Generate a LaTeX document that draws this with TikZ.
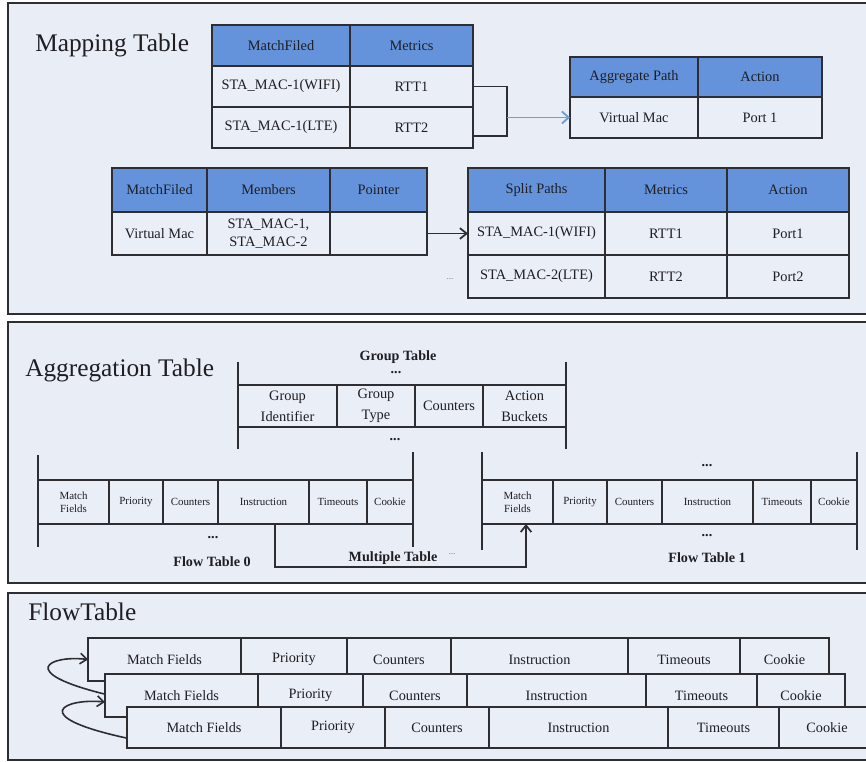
\documentclass[tikz,border=0pt]{standalone}
\usepackage{fontspec}
\setmainfont{Liberation Serif}
\usetikzlibrary{calc,arrows.meta}
\definecolor{panelc}{RGB}{233,237,246}
\definecolor{cellc}{RGB}{234,238,247}
\definecolor{hdrc}{RGB}{100,147,219}
\definecolor{linec}{RGB}{45,45,50}
\definecolor{textc}{RGB}{30,30,35}
\definecolor{bluec}{RGB}{118,155,205}
\newcommand\tcell[7][]{%
  \pgfmathsetmacro\cw{(#5-#3)*0.75}%
  \pgfmathsetmacro\ch{(#6-#4)*0.75}%
  \node[cell,#1,minimum width=\cw pt,minimum height=\ch pt] (#2) at ({(#3+#5)/2},{(#4+#6)/2}) {#7};}
\begin{document}
\begin{tikzpicture}[x=0.75pt,y=-0.75pt,
  panel/.style={draw=linec,line width=1.6pt,fill=panelc},
  cell/.style={draw=linec,line width=1.3pt,fill=cellc,inner sep=0pt,outer sep=0pt,text=textc,align=center,font=\fontsize{10.8}{14}\selectfont},
  hdr/.style={fill=hdrc},
  fcell/.style={font=\fontsize{8.2}{9.8}\selectfont},
  gcell/.style={font=\fontsize{10.8}{15.5}\selectfont},
  bcell/.style={font=\fontsize{10.7}{13}\selectfont},
  title/.style={anchor=west,inner sep=0pt,text=textc,font=\fontsize{19}{22}\selectfont},
  blabel/.style={inner sep=0pt,text=textc,font=\fontsize{10.6}{12}\selectfont\bfseries},
  sdots/.style={inner sep=0pt,text=gray,font=\fontsize{7}{8}\selectfont},
  bar/.style={draw=linec,line width=1.5pt},
  conn/.style={draw=linec,line width=1.3pt},
  arr/.style={draw=linec,line width=1.3pt,-{Straight Barb[length=5pt,width=8pt]}},
  bluearr/.style={draw=bluec,line width=1.4pt,-{Straight Barb[length=5pt,width=9pt]}},
  curv/.style={draw=linec,line width=1.2pt,-{Straight Barb[length=5pt,width=8pt]}}]
\useasboundingbox (0,0) rectangle (866,762);
\clip (0,0) rectangle (866,762);
\fill[white] (0,0) rectangle (866,762);

% ---------------- Mapping table panel ----------------
\draw[panel] (8,3) rectangle (890,314);
\node[title] (tmap) at (35,45) {Mapping Table};

\tcell[hdr]{a11}{212}{25}{350}{66}{MatchFiled}
\tcell[hdr]{a12}{350}{25}{473}{66}{Metrics}
\tcell{a21}{212}{66}{350}{107}{STA\_MAC-1(WIFI)}
\tcell{a22}{350}{66}{473}{107}{RTT1}
\tcell{a31}{212}{107}{350}{148}{STA\_MAC-1(LTE)}
\tcell{a32}{350}{107}{473}{148}{RTT2}

\tcell[hdr]{b11}{570}{57}{698}{97}{Aggregate Path}
\tcell[hdr]{b12}{698}{57}{822}{97}{Action}
\tcell{b21}{570}{97}{698}{138}{Virtual Mac}
\tcell{b22}{698}{97}{822}{138}{Port 1}

\coordinate (bk1) at (507,86.5);
\coordinate (bk2) at (507,136);
\draw[conn] (a22.east) -- (bk1) -- (bk2) -- (a32.east |- bk2);
\draw[bluearr] (bk1 |- b21.west) -- (b21.west);

\tcell[hdr]{c11}{112}{168}{207}{212}{MatchFiled}
\tcell[hdr]{c12}{207}{168}{330}{212}{Members}
\tcell[hdr]{c13}{330}{168}{427}{212}{Pointer}
\tcell{c21}{112}{212}{207}{255}{Virtual Mac}
\tcell{c22}{207}{212}{330}{255}{STA\_MAC-1,\\STA\_MAC-2}
\tcell{c23}{330}{212}{427}{255}{}

\tcell[hdr]{d11}{468}{168}{605}{212}{Split Paths}
\tcell[hdr]{d12}{605}{168}{727}{212}{Metrics}
\tcell[hdr]{d13}{727}{168}{849}{212}{Action}
\tcell{d21}{468}{212}{605}{255}{STA\_MAC-1(WIFI)}
\tcell{d22}{605}{212}{727}{255}{RTT1}
\tcell{d23}{727}{212}{849}{255}{Port1}
\tcell{d31}{468}{255}{605}{298}{STA\_MAC-2(LTE)}
\tcell{d32}{605}{255}{727}{298}{RTT2}
\tcell{d33}{727}{255}{849}{298}{Port2}

\draw[arr] (c23.east) -- (d21.west);
\node[sdots] (dots1) at (450,279) {...};

% ---------------- Aggregation table panel ----------------
\draw[panel] (8,322) rectangle (890,583);
\node[title] (tagg) at (25,370) {Aggregation Table};

\node[blabel] (gtt) at (398,357) {Group Table};
\node[blabel] (gtd1) at (396,373) {...};
\draw[bar] (238,362) -- (238,449);
\draw[bar] (566,362) -- (566,449);
\tcell[gcell]{g1}{238}{385}{337}{427}{Group\\Identifier}
\tcell[gcell]{g2}{337}{385}{415}{427}{Group\\Type}
\tcell[gcell]{g3}{415}{385}{483}{427}{Counters}
\tcell[gcell]{g4}{483}{385}{566}{427}{Action\\Buckets}
\node[blabel] (gtd2) at (395,440) {...};

% flow table 0
\draw[bar] (38,455) -- (38,547);
\draw[bar] (413,452) -- (413,547);
\tcell[fcell]{e01}{38}{480}{109}{524}{Match\\Fields}
\tcell[fcell]{e02}{109}{480}{163}{524}{Priority}
\tcell[fcell]{e03}{163}{480}{218}{524}{Counters}
\tcell[fcell]{e04}{218}{480}{309}{524}{Instruction}
\tcell[fcell]{e05}{309}{480}{367}{524}{Timeouts}
\tcell[fcell]{e06}{367}{480}{413}{524}{Cookie}
\node[blabel] (f0d) at (213,538) {...};
\node[blabel] (f0l) at (212,562) {Flow Table 0};

% flow table 1
\draw[bar] (482,452) -- (482,550);
\draw[bar] (857,452) -- (857,550);
\tcell[fcell]{f01}{482}{480}{553}{524}{Match\\Fields}
\tcell[fcell]{f02}{553}{480}{607}{524}{Priority}
\tcell[fcell]{f03}{607}{480}{662}{524}{Counters}
\tcell[fcell]{f04}{662}{480}{753}{524}{Instruction}
\tcell[fcell]{f05}{753}{480}{811}{524}{Timeouts}
\tcell[fcell]{f06}{811}{480}{857}{524}{Cookie}
\node[blabel] (f1d1) at (707,466) {...};
\node[blabel] (f1d2) at (707,536) {...};
\node[blabel] (f1l) at (707,558) {Flow Table 1};

\coordinate (mt) at (400,567);
\draw[arr] ([xshift=8.6pt]e04.south) |- (mt) -| ([xshift=6.4pt]f01.south);
\node[blabel] (mtl) at (393,558) {Multiple Table};
\node[sdots] (mtd) at (452,554) {...};

% ---------------- FlowTable panel ----------------
\draw[panel] (8,593) rectangle (890,760);
\node[title] (tflow) at (28,612) {FlowTable};

\tcell[bcell]{ha1}{88}{638}{241}{681}{Match Fields}
\tcell[bcell]{ha2}{241}{638}{347}{681}{Priority}
\tcell[bcell]{ha3}{347}{638}{451}{681}{Counters}
\tcell[bcell]{ha4}{451}{638}{628}{681}{Instruction}
\tcell[bcell]{ha5}{628}{638}{740}{681}{Timeouts}
\tcell[bcell]{ha6}{740}{638}{829}{681}{Cookie}

\tcell[bcell]{hb1}{105}{674}{258}{717}{Match Fields}
\tcell[bcell]{hb2}{258}{674}{363}{717}{Priority}
\tcell[bcell]{hb3}{363}{674}{467}{717}{Counters}
\tcell[bcell]{hb4}{467}{674}{646}{717}{Instruction}
\tcell[bcell]{hb5}{646}{674}{757}{717}{Timeouts}
\tcell[bcell]{hb6}{757}{674}{845}{717}{Cookie}

\tcell[bcell]{hc1}{127}{707}{281}{748}{Match Fields}
\tcell[bcell]{hc2}{281}{707}{385}{748}{Priority}
\tcell[bcell]{hc3}{385}{707}{489}{748}{Counters}
\tcell[bcell]{hc4}{489}{707}{668}{748}{Instruction}
\tcell[bcell]{hc5}{668}{707}{779}{748}{Timeouts}
\tcell[bcell]{hc6}{779}{707}{875}{748}{Cookie}

\draw[curv] ([yshift=1pt]hb1.west) .. controls (15,672) and (50,655) .. (ha1.west);
\draw[curv] ([yshift=-8pt]hc1.west) .. controls (25,716) and (65,698) .. ([yshift=-4.9pt]hb1.west);
\end{tikzpicture}
\end{document}
